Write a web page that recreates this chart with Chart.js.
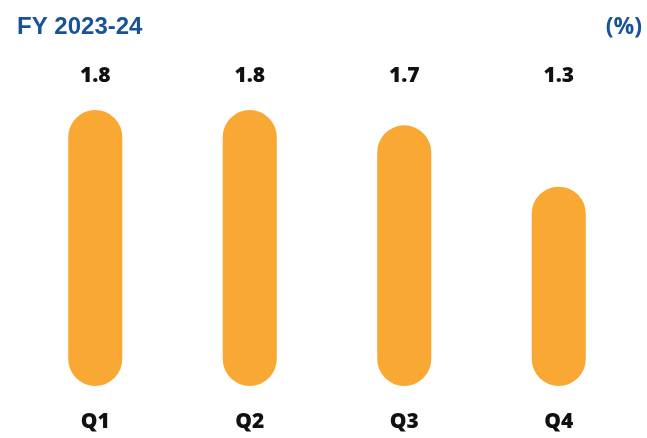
<!DOCTYPE html>
<html>
<head>
<meta charset="utf-8">
<script src="https://cdn.jsdelivr.net/npm/chart.js@4"></script>
<style>
  html, body { margin: 0; padding: 0; background: #fff; }
  #wrap { width: 647px; height: 438px; }
</style>
</head>
<body>
<div id="wrap"><canvas id="grafico"></canvas></div>
<script>
// datos
const trimestres = ['Q1', 'Q2', 'Q3', 'Q4'];
const valores = [1.8, 1.8, 1.7, 1.3];
const etiquetas = ['1.8', '1.8', '1.7', '1.3'];
const titulo = 'FY 2023-24';
const unidad = '(%)';

const azul = '#17529b';
const naranja = '#f9a833';

// textos: titulo, valores arriba y trimestres abajo
const textos = {
  id: 'textos',
  afterDraw(chart) {
    const ctx = chart.ctx;
    const x = chart.scales.x;
    ctx.save();
    ctx.textBaseline = 'middle';

    ctx.fillStyle = azul;
    ctx.font = 'bold 24px "Liberation Sans", Arial, sans-serif';
    ctx.textAlign = 'left';
    ctx.fillText(titulo, 17, 27);
    ctx.font = 'bold 23px "Open Sans", "Noto Sans", sans-serif';
    ctx.textAlign = 'right';
    ctx.fillText(unidad, 642, 27);

    ctx.fillStyle = '#111';
    ctx.textAlign = 'center';
    ctx.font = '800 21px "Open Sans", "Noto Sans", sans-serif';
    trimestres.forEach((q, i) => {
      const px = x.getPixelForValue(i);
      ctx.fillText(etiquetas[i], px, 76);
      ctx.fillText(q, px, 422);
    });
    ctx.restore();
  }
};

new Chart(document.getElementById('grafico'), {
  type: 'bar',
  data: {
    labels: trimestres,
    datasets: [{
      data: valores,
      backgroundColor: naranja,
      borderRadius: 27,
      borderSkipped: false,
      categoryPercentage: 1,
      barPercentage: 0.35
    }]
  },
  options: {
    responsive: true,
    maintainAspectRatio: false,
    animation: false,
    layout: { padding: { top: 110, bottom: 52, left: 18, right: 11 } },
    plugins: { legend: { display: false }, tooltip: { enabled: false } },
    scales: {
      x: { display: false },
      y: { display: false, min: 0, max: 1.8 }
    }
  },
  plugins: [textos]
});
</script>
</body>
</html>
